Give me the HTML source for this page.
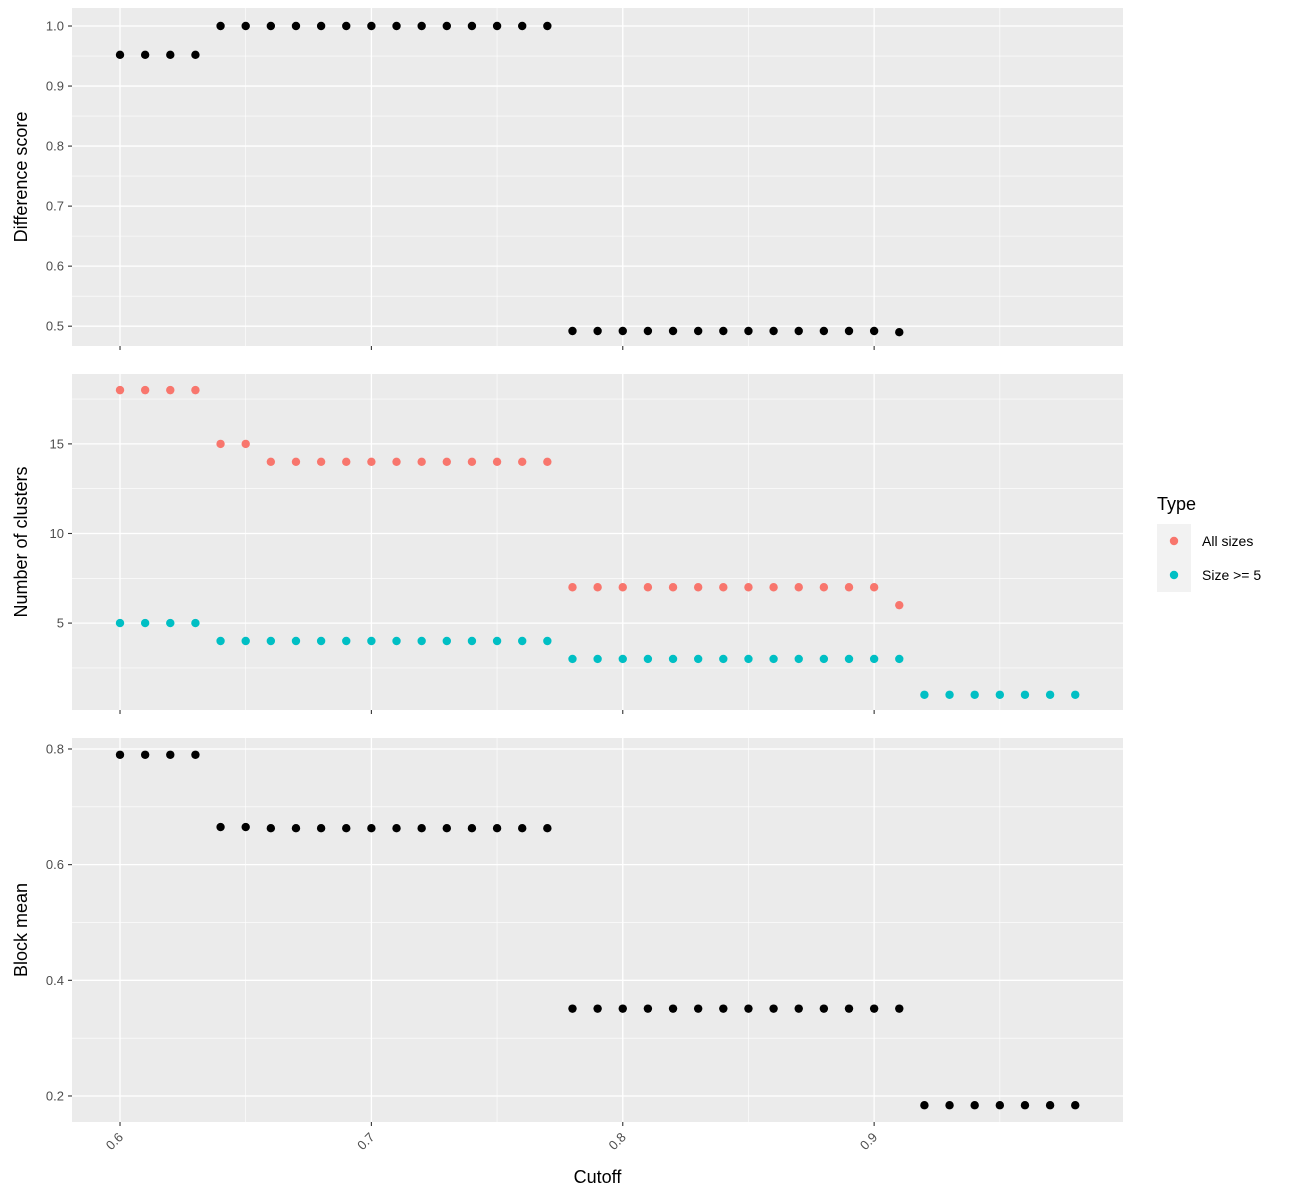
<!DOCTYPE html>
<html><head><meta charset="utf-8"><style>body{margin:0;background:#fff}svg{display:block}text{font-family:"Liberation Sans",sans-serif}</style></head>
<body>
<svg id="c" width="1300" height="1200"></svg>
<script>
const cutoffs=[0.6,0.61,0.62,0.63,0.64,0.65,0.66,0.67,0.68,0.69,0.7,0.71,0.72,0.73,0.74,0.75,0.76,0.77,0.78,0.79,0.8,0.81,0.82,0.83,0.84,0.85,0.86,0.87,0.88,0.89,0.9,0.91,0.92,0.93,0.94,0.95,0.96,0.97,0.98];
const diffScore=[0.952,0.952,0.952,0.952,1,1,1,1,1,1,1,1,1,1,1,1,1,1,0.492,0.492,0.492,0.492,0.492,0.492,0.492,0.492,0.492,0.492,0.492,0.492,0.492,0.49,null,null,null,null,null,null,null];
const allSizes=[18,18,18,18,15,15,14,14,14,14,14,14,14,14,14,14,14,14,7,7,7,7,7,7,7,7,7,7,7,7,7,6,null,null,null,null,null,null,null];
const size5=[5,5,5,5,4,4,4,4,4,4,4,4,4,4,4,4,4,4,3,3,3,3,3,3,3,3,3,3,3,3,3,3,1,1,1,1,1,1,1];
const blockMean=[0.79,0.79,0.79,0.79,0.665,0.665,0.663,0.663,0.663,0.663,0.663,0.663,0.663,0.663,0.663,0.663,0.663,0.663,0.351,0.351,0.351,0.351,0.351,0.351,0.351,0.351,0.351,0.351,0.351,0.351,0.351,0.351,0.184,0.184,0.184,0.184,0.184,0.184,0.184];
const xTicks=[0.6,0.7,0.8,0.9];
const topTicks=[0.5,0.6,0.7,0.8,0.9,1.0];
const midTicks=[5,10,15];
const botTicks=[0.2,0.4,0.6,0.8];
const svg=document.getElementById('c');const NS='http://www.w3.org/2000/svg';
function el(t,a,p){const e=document.createElementNS(NS,t);for(const k in a)e.setAttribute(k,a[k]);(p||svg).appendChild(e);return e;}
const X0=72,X1=1123,xmin=0.5809,xmax=0.999;
const xs=v=>X0+(v-xmin)/(xmax-xmin)*(X1-X0);
function panel(name,y0,y1,ymin,ymax,ticks,minor,fmt,title,showX){
 const g=el('g',{});
 const ys=v=>y1-(v-ymin)/(ymax-ymin)*(y1-y0);
 el('rect',{x:X0,y:y0,width:X1-X0,height:y1-y0,fill:'#ebebeb'},g);
 minor.forEach(v=>el('line',{x1:X0,x2:X1,y1:ys(v),y2:ys(v),stroke:'#fff','stroke-width':0.6},g));
 [0.55,0.65,0.75,0.85,0.95].forEach(v=>el('line',{x1:xs(v),x2:xs(v),y1:y0,y2:y1,stroke:'#fff','stroke-width':0.6},g));
 ticks.forEach(v=>{el('line',{x1:X0,x2:X1,y1:ys(v),y2:ys(v),stroke:'#fff','stroke-width':1.3},g);
  el('line',{x1:X0-4,x2:X0,y1:ys(v),y2:ys(v),stroke:'#333','stroke-width':1.1},g);
  const t=el('text',{x:X0-8,y:ys(v)+4.5,'text-anchor':'end','font-size':13,fill:'#4d4d4d'},g);t.textContent=fmt(v);
  });
 xTicks.forEach(v=>{el('line',{x1:xs(v),x2:xs(v),y1:y0,y2:y1,stroke:'#fff','stroke-width':1.3},g);
  el('line',{x1:xs(v),x2:xs(v),y1:y1,y2:y1+4,stroke:'#333','stroke-width':1.1},g);
  if(showX){const t=el('text',{transform:`translate(${xs(v)+4},${y1+16}) rotate(-45)`,'text-anchor':'end','font-size':13,fill:'#4d4d4d'},g);t.textContent=v.toFixed(1);
  }});
 const yt=el('text',{transform:`translate(27,${(y0+y1)/2}) rotate(-90)`,'text-anchor':'middle','font-size':18,fill:'#000'},g);yt.textContent=title;
 
 return {g,ys};
}
function pts(p,vals,col,nm){vals.forEach((v,i)=>{if(v==null)return;const c=el('circle',{cx:xs(cutoffs[i]),cy:p.ys(v),r:4.2,fill:col},p.g);
 });}
const p1=panel('difference-score',8,346,0.467,1.03,topTicks,[0.55,0.65,0.75,0.85,0.95],v=>v.toFixed(1),'Difference score',false);
pts(p1,diffScore,'#000','difference-point');
const p2=panel('clusters',374,710,0.15,18.9,midTicks,[2.5,7.5,12.5,17.5],v=>String(v),'Number of clusters',false);
pts(p2,allSizes,'#f8766d','all-sizes-point');pts(p2,size5,'#00bfc4','size5-point');
const p3=panel('block-mean',738,1122,0.155,0.819,botTicks,[0.3,0.5,0.7],v=>v.toFixed(1),'Block mean',true);
pts(p3,blockMean,'#000','block-mean-point');
const xt=el('text',{x:(X0+X1)/2,y:1183,'text-anchor':'middle','font-size':18});xt.textContent='Cutoff';

const lg=el('g',{});
const lt=el('text',{x:1157,y:510,'font-size':18},lg);lt.textContent='Type';
[['All sizes','#f8766d'],['Size >= 5','#00bfc4']].forEach((d,i)=>{const y=524+i*34;
 el('rect',{x:1157,y:y,width:34,height:34,fill:'#f2f2f2'},lg);
 const c=el('circle',{cx:1174,cy:y+17,r:4.2,fill:d[1]},lg);
 
 const t=el('text',{x:1202,y:y+22,'font-size':14},lg);t.textContent=d[0];
 });
</script>
</body></html>
